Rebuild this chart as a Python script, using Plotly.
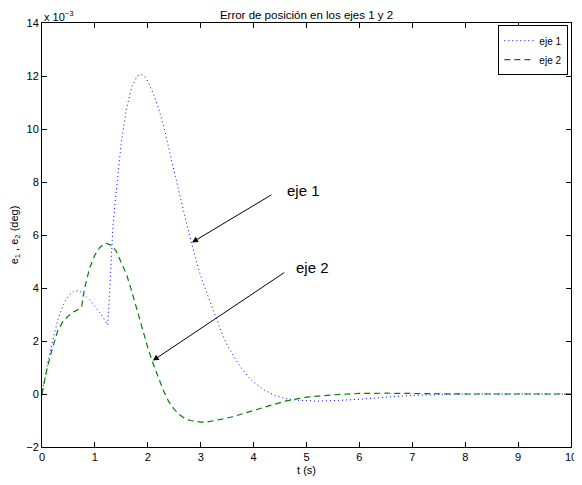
import plotly.graph_objects as go

# Data (values in units of 1e-3 deg)
t1 = [0.0, 0.05, 0.1, 0.2, 0.3, 0.4, 0.5, 0.6, 0.7, 0.8, 0.9, 1.0, 1.1, 1.2, 1.24,
      1.27, 1.30, 1.34, 1.40, 1.45, 1.5, 1.6, 1.7, 1.8, 1.88, 1.95, 2.0, 2.1, 2.2,
      2.3, 2.4, 2.5, 2.6, 2.7, 2.8, 2.9, 3.0, 3.1, 3.2, 3.3, 3.4, 3.5, 3.6, 3.7,
      3.8, 3.9, 4.0, 4.2, 4.4, 4.6, 4.8, 5.0, 5.2, 5.5, 6.0, 6.5, 7.0, 7.5, 8.0,
      9.0, 10.0]
e1 = [0.0, 0.6, 1.1, 2.0, 2.8, 3.35, 3.7, 3.88, 3.9, 3.75, 3.55, 3.3, 3.05, 2.75, 2.6,
      3.5, 5.0, 6.3, 7.6, 8.6, 9.5, 10.8, 11.6, 12.0, 12.05, 11.95, 11.8, 11.35, 10.8,
      10.1, 9.3, 8.4, 7.55, 6.7, 5.9, 5.15, 4.45, 3.9, 3.35, 2.8, 2.3, 1.85, 1.5, 1.17,
      0.9, 0.65, 0.45, 0.15, -0.05, -0.17, -0.23, -0.26, -0.27, -0.25, -0.2, -0.12, -0.05, -0.02, 0.0,
      0.0, 0.0]

t2 = [0.0, 0.05, 0.1, 0.2, 0.3, 0.4, 0.5, 0.6, 0.7, 0.75, 0.8, 0.9, 1.0, 1.1, 1.2,
      1.3, 1.4, 1.5, 1.6, 1.7, 1.8, 1.9, 2.0, 2.1, 2.2, 2.3, 2.4, 2.5, 2.6, 2.7,
      2.8, 3.0, 3.1, 3.2, 3.4, 3.6, 3.8, 4.0, 4.2, 4.4, 4.6, 4.8, 5.0, 5.5, 6.0,
      6.5, 7.0, 8.0, 10.0]
e2 = [0.0, 0.5, 1.0, 1.75, 2.4, 2.75, 2.95, 3.1, 3.2, 3.3, 3.95, 4.75, 5.25, 5.55, 5.7,
      5.62, 5.4, 4.95, 4.5, 3.85, 3.15, 2.4, 1.75, 1.15, 0.6, 0.1, -0.3, -0.58, -0.78, -0.92,
      -1.0, -1.06, -1.06, -1.03, -0.95, -0.86, -0.75, -0.62, -0.5, -0.38, -0.27, -0.19, -0.12, -0.03, 0.02,
      0.03, 0.02, 0.0, 0.0]

x_ticks = [0, 1, 2, 3, 4, 5, 6, 7, 8, 9, 10]
y_ticks = [-2, 0, 2, 4, 6, 8, 10, 12, 14]

FONT = "Liberation Sans, Arial, sans-serif"

fig = go.Figure()
fig.add_trace(go.Scatter(x=t1, y=e1, mode="lines", name="eje 1",
                         line=dict(color="#0000ff", width=1, dash="1px,3px")))
fig.add_trace(go.Scatter(x=t2, y=e2, mode="lines", name="eje 2",
                         line=dict(color="#008000", width=1.2, dash="6px,4px")))

axis_common = dict(showline=True, linecolor="black", linewidth=1, mirror="ticks",
                   ticks="inside", ticklen=5, tickcolor="black", showgrid=False,
                   zeroline=False, ticklabeloverflow="allow",
                   tickfont=dict(size=11, color="black", family=FONT))

fig.update_xaxes(range=[0, 10], tickvals=x_ticks,
                 title=dict(text="t (s)", font=dict(size=11, color="black", family=FONT), standoff=4),
                 **axis_common)
fig.update_yaxes(range=[-2, 14], tickvals=y_ticks,
                 title=dict(text="e<sub>1</sub> , e<sub>2</sub> (deg)",
                            font=dict(size=11, color="black", family=FONT), standoff=6),
                 **axis_common)

annotations = [
    dict(x=2.836, y=5.72, ax=4.366, ay=7.55, xref="x", yref="y", axref="x", ayref="y",
         text="", showarrow=True, arrowhead=2, arrowsize=1.2, arrowwidth=1, arrowcolor="black"),
    dict(x=2.095, y=1.26, ax=4.608, ay=4.62, xref="x", yref="y", axref="x", ayref="y",
         text="", showarrow=True, arrowhead=2, arrowsize=1.2, arrowwidth=1, arrowcolor="black"),
    dict(x=4.59, y=7.68, xref="x", yref="y", text="eje 1", showarrow=False, xanchor="left",
         yanchor="middle", font=dict(size=15, color="black", family=FONT)),
    dict(x=4.76, y=4.78, xref="x", yref="y", text="eje 2", showarrow=False, xanchor="left",
         yanchor="middle", font=dict(size=15, color="black", family=FONT)),
    dict(x=0, y=1, xref="paper", yref="paper", text="x 10<sup>−3</sup>", showarrow=False,
         xanchor="left", yanchor="bottom", yshift=-2, font=dict(size=11, color="black", family=FONT)),
]

fig.update_layout(
    width=574, height=477,
    margin=dict(l=33, r=5, t=15, b=38),
    paper_bgcolor="white", plot_bgcolor="white",
    title=dict(text="Error de posición en los ejes 1 y 2", x=0.5, xref="paper", xanchor="center",
               y=1, yref="paper", yanchor="bottom", pad=dict(b=4),
               font=dict(size=11.5, color="black", family=FONT)),
    legend=dict(x=0.995, y=0.995, xanchor="right", yanchor="top", bordercolor="black",
                borderwidth=1, bgcolor="white", font=dict(size=10, color="black", family=FONT),
                itemwidth=30, tracegroupgap=0),
    annotations=annotations,
    showlegend=True,
)

fig.write_html("out.html")
